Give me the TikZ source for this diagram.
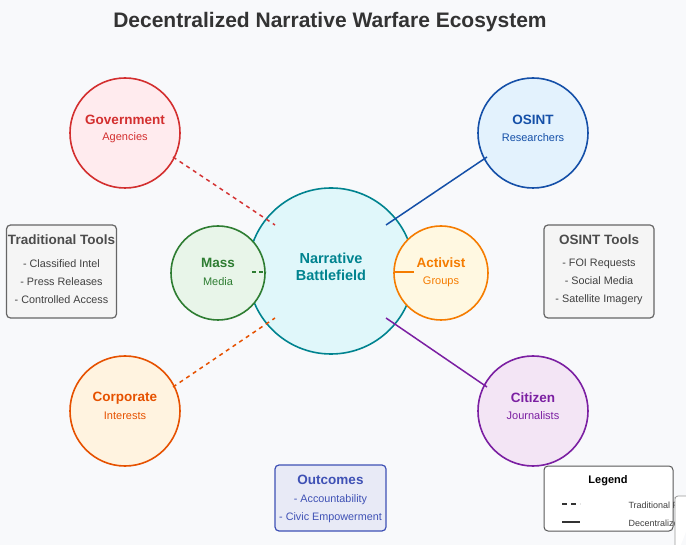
\documentclass[tikz,border=0pt]{standalone}
\usepackage{fontspec}
\setmainfont{Liberation Sans}
\begin{document}
\begin{tikzpicture}[x=1pt,y=-1pt,
  circ/.style={circle,draw,line width=1.6pt,inner sep=0pt,align=center},
  tbox/.style={draw=black!60,fill=black!4,line width=1.2pt,rounded corners=4pt,align=center,minimum width=110pt,minimum height=93pt},
  lbl/.style={font=\bfseries\fontsize{13.5}{16}\selectfont},
  sub/.style={font=\fontsize{11}{13}\selectfont},
  item/.style={font=\fontsize{10.8}{18}\selectfont}]
\fill[color={rgb,255:red,248;green,249;blue,251}] (0,0) rectangle (686,545);
\useasboundingbox (0,0) rectangle (686,545);
\definecolor{gov}{HTML}{D32F2F}\definecolor{govf}{HTML}{FFEBEE}
\definecolor{osi}{HTML}{1550A8}\definecolor{osif}{HTML}{E3F2FD}
\definecolor{cor}{HTML}{E65100}\definecolor{corf}{HTML}{FFF3E0}
\definecolor{cit}{HTML}{7B1FA2}\definecolor{citf}{HTML}{F3E5F5}
\definecolor{mas}{HTML}{2E7D32}\definecolor{masf}{HTML}{E8F5E9}
\definecolor{act}{HTML}{F57C00}\definecolor{actf}{HTML}{FFF8E1}
\definecolor{bat}{HTML}{00838F}\definecolor{batf}{HTML}{E0F7FA}
\definecolor{outc}{HTML}{3F51B5}\definecolor{outf}{HTML}{E8EAF6}
\node[font=\bfseries\fontsize{21}{25}\selectfont,text=black!80] (title) at (330,22) {Decentralized Narrative Warfare Ecosystem};
\coordinate (g1) at (173,157); \coordinate (g2) at (275,225);
\coordinate (o1) at (487,157); \coordinate (o2) at (386,225);
\coordinate (c1) at (173,387); \coordinate (c2) at (275,318);
\coordinate (z1) at (487,387); \coordinate (z2) at (386,318);
\node[circ,draw=bat,fill=batf,minimum size=166pt] (bf) at (331,271) {};
\node[font=\bfseries\fontsize{14.5}{17}\selectfont,text=bat,align=center] (bft) at (331,267) {Narrative\\Battlefield};
\node[circ,draw=gov,fill=govf,minimum size=110pt] (gov) at (125,133) {};
\node[circ,draw=osi,fill=osif,minimum size=110pt] (osint) at (533,133) {};
\node[circ,draw=cor,fill=corf,minimum size=110pt] (corp) at (125,411) {};
\node[circ,draw=cit,fill=citf,minimum size=110pt] (citz) at (533,411) {};
\draw[gov,line width=1.5pt,dash pattern=on 4pt off 4pt] (g1) -- (g2);
\draw[osi,line width=1.5pt] (o1) -- (o2);
\draw[cor,line width=1.5pt,dash pattern=on 4pt off 4pt] (c1) -- (c2);
\draw[cit,line width=1.5pt] (z1) -- (z2);
\node[circ,draw=mas,fill=masf,minimum size=94pt] (mass) at (218,273) {};
\node[circ,draw=act,fill=actf,minimum size=94pt] (act) at (441,273) {};
\coordinate (m1) at (252,272); \coordinate (m2) at (266,272);
\coordinate (a1) at (395,272); \coordinate (a2) at (414,272);
\draw[mas,line width=1.5pt,dash pattern=on 4pt off 3pt] (m1) -- (m2);
\draw[act,line width=1.5pt] (a1) -- (a2);
\node[lbl,text=gov] at (125,120) {Government};
\node[sub,text=gov] at (125,138) {Agencies};
\node[lbl,text=osi] at (533,120) {OSINT};
\node[sub,text=osi] at (533,138) {Researchers};
\node[lbl,text=cor] at (125,398) {Corporate};
\node[sub,text=cor] at (125,416) {Interests};
\node[lbl,text=cit] at (533,398) {Citizen};
\node[sub,text=cit] at (533,416) {Journalists};
\node[lbl,text=mas] at (218,263) {Mass};
\node[sub,text=mas] at (218,282) {Media};
\node[lbl,text=act] at (441,263) {Activist};
\node[sub,text=act] at (441,282) {Groups};
\node[tbox] (trad) at (61.5,271.5) {};
\node[lbl,text=black!70] at (61.5,240) {Traditional Tools};
\node[item,text=black!75,align=center] at (61.5,282) {- Classified Intel\\- Press Releases\\- Controlled Access};
\node[tbox] (otools) at (599,271.5) {};
\node[lbl,text=black!70] at (599,240) {OSINT Tools};
\node[item,text=black!75,align=center] at (599,282) {- FOI Requests\\- Social Media\\- Satellite Imagery};
\node[draw=outc,fill=outf,line width=1.2pt,rounded corners=4pt,minimum width=111pt,minimum height=66pt] (out) at (330.5,498) {};
\node[lbl,text=outc] at (330.5,480) {Outcomes};
\node[item,text=outc,align=center] at (330.5,509) {- Accountability\\- Civic Empowerment};
\node[draw=black!65,fill=white,line width=1pt,rounded corners=4pt,minimum width=129pt,minimum height=65pt] (leg) at (608.5,498.5) {};
\node[font=\bfseries\fontsize{11}{13}\selectfont] at (608,481) {Legend};
\coordinate (l1) at (562,504); \coordinate (l2) at (580,504);
\coordinate (l3) at (562,522); \coordinate (l4) at (580,522);
\draw[black!80,line width=1.5pt,dash pattern=on 5pt off 4pt] (l1) -- (l2);
\draw[black!80,line width=1.5pt] (l3) -- (l4);
\node[font=\fontsize{9}{11}\selectfont,text=black!75,anchor=west] at (625,505) {Traditional Flow};
\node[font=\fontsize{9}{11}\selectfont,text=black!75,anchor=west] at (625,523) {Decentralized};
\draw[black!40,fill=white,line width=0.8pt,rounded corners=3pt] (675,560) -- (675,500) -- ++(0,-4) -- (700,496);
\end{tikzpicture}
\end{document}
